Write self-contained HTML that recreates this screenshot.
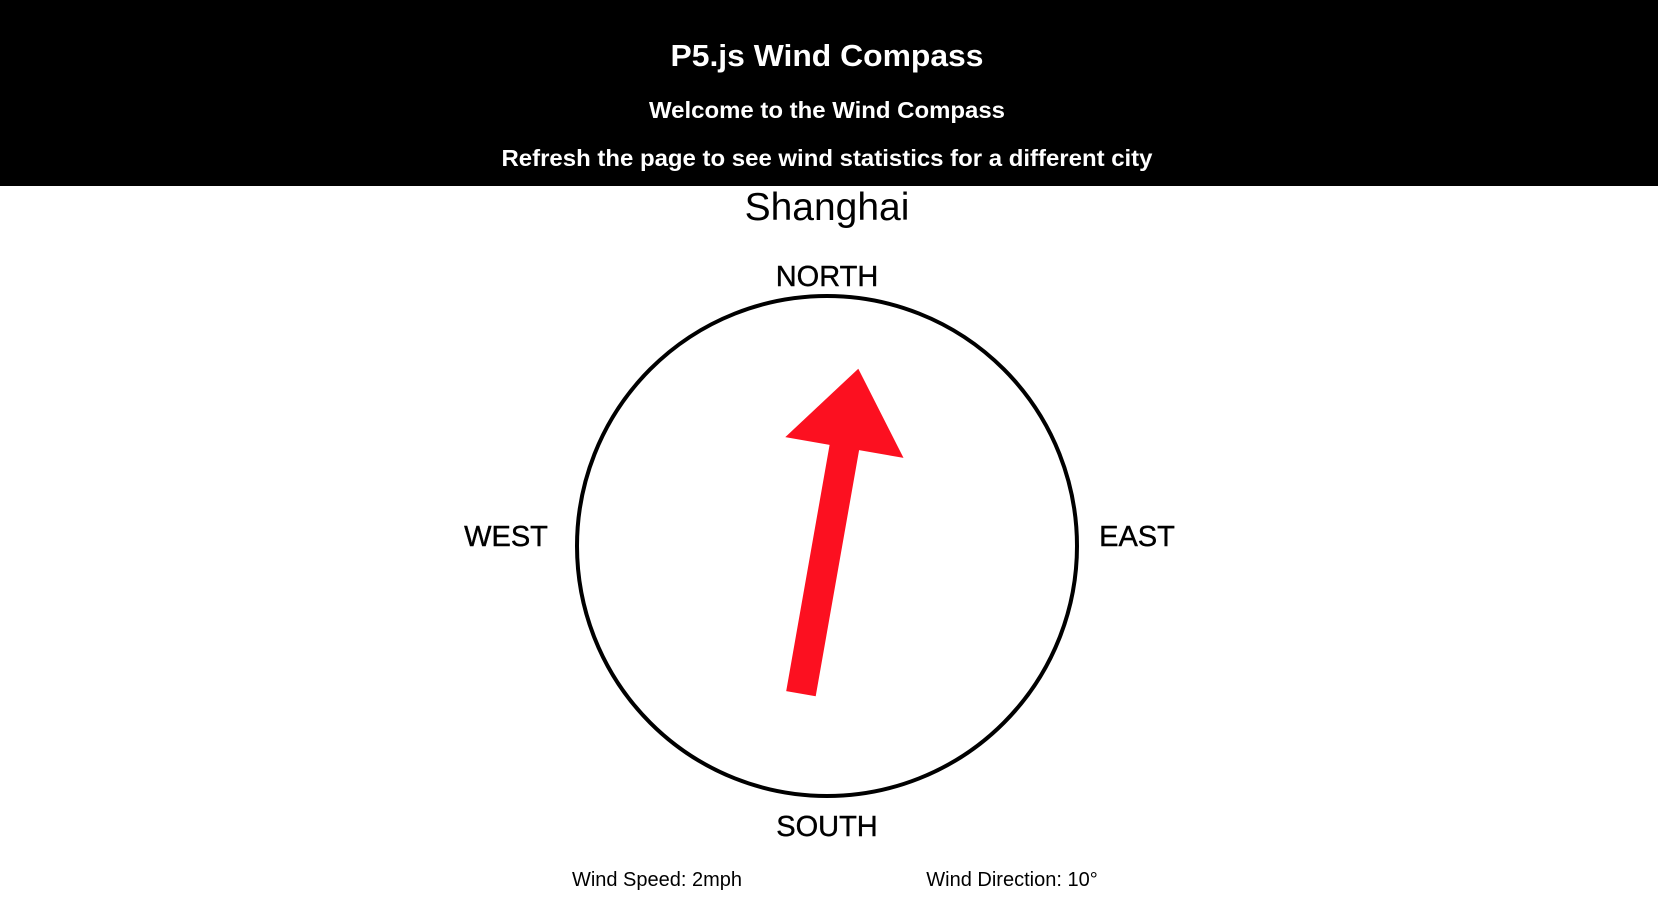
<!DOCTYPE html>
<html><head><meta charset="utf-8"><style>
html,body{margin:0;padding:0;width:1658px;height:902px;overflow:hidden;background:#fff;font-family:"Liberation Sans",Arial,sans-serif;}
svg{display:block}
</style></head><body>
<svg id="chart" width="1658" height="902" viewBox="0 0 1658 902">
  <rect x="0" y="0" width="1658" height="186" fill="#000"/>
  <text x="827" y="66" text-anchor="middle" font-size="31" font-weight="bold" fill="#fff" textLength="313" lengthAdjust="spacingAndGlyphs">P5.js Wind Compass</text>
  <text x="827" y="118" text-anchor="middle" font-size="23" font-weight="bold" fill="#fff" textLength="356" lengthAdjust="spacingAndGlyphs">Welcome to the Wind Compass</text>
  <text x="827" y="166" text-anchor="middle" font-size="23" font-weight="bold" fill="#fff" textLength="651" lengthAdjust="spacingAndGlyphs">Refresh the page to see wind statistics for a different city</text>
  <text id="city" x="827" y="220" text-anchor="middle" font-size="39" fill="#000">Shanghai</text>
  <circle cx="827" cy="546" r="250" fill="none" stroke="#000" stroke-width="4"/>
  <text x="827" y="286" text-anchor="middle" font-size="29" fill="#000" stroke="#000" stroke-width="0.4">NORTH</text>
  <text x="827" y="836" text-anchor="middle" font-size="29" fill="#000" stroke="#000" stroke-width="0.4">SOUTH</text>
  <text x="506" y="546" text-anchor="middle" font-size="29" fill="#000" stroke="#000" stroke-width="0.4">WEST</text>
  <text x="1137" y="546" text-anchor="middle" font-size="29" fill="#000" stroke="#000" stroke-width="0.4">EAST</text>
  <g id="arrowLayer"></g>
  <text id="speedText" x="657" y="886" text-anchor="middle" font-size="20" fill="#000"></text>
  <text id="dirText" x="1012" y="886" text-anchor="middle" font-size="20" fill="#000"></text>
</svg>
<script>
const windDirection = [10];
const windSpeed = [2];
const cityNames = ["Shanghai"];

const cx = 827, cy = 546;
function rotPt(along, across, deg) {
  const a = deg * Math.PI / 180;
  const ux = Math.sin(a), uy = -Math.cos(a);
  const px = Math.cos(a), py = Math.sin(a);
  return [cx + along * ux + across * px, cy + along * uy + across * py];
}
const d = windDirection[0];
const pts = [
  rotPt(-150, -15, d), rotPt(100, -15, d), rotPt(100, -60, d),
  rotPt(180, 0, d), rotPt(100, 60, d), rotPt(100, 15, d), rotPt(-150, 15, d)
];
const ns = "http://www.w3.org/2000/svg";
const arrow = document.createElementNS(ns, "polygon");
arrow.setAttribute("points", pts.map(p => p[0].toFixed(1) + "," + p[1].toFixed(1)).join(" "));
arrow.setAttribute("fill", "#fc1020");


document.getElementById("arrowLayer").appendChild(arrow);
document.getElementById("city").textContent = cityNames[0];
document.getElementById("speedText").textContent = "Wind Speed: " + windSpeed[0] + "mph";
document.getElementById("dirText").textContent = "Wind Direction: " + windDirection[0] + "°";
</script>
</body></html>
